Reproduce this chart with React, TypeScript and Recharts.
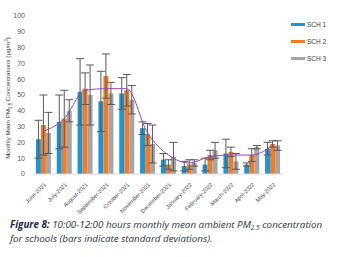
import React from 'react'
import { Bar, ComposedChart, ErrorBar, Legend, Line, XAxis, YAxis } from 'recharts'

const months = ['June-2021', 'July-2021', 'August-2021', 'September-2021', 'October-2021', 'November-2021', 'December-2021', 'January-2022', 'February-2022', 'March-2022', 'April-2022', 'May-2022']
const sch1 = [22, 33, 52, 46, 51, 29, 9, 5, 6, 13, 6, 16]
const sch1Sd = [12, 17, 21, 19, 10, 4, 4, 3, 4, 9, 1, 4]
const sch2 = [31, 35, 54, 62, 53, 25, 6, 6, 12, 14, 12, 19]
const sch2Sd = [19, 18, 10, 14, 10, 7, 3, 3, 3, 3, 4, 2]
const sch3 = [26, 40, 50, 51, 47, 19, 11, 7, 15, 8, 17, 18]
const sch3Sd = [13, 7, 19, 7, 9, 12, 9, 2, 5, 5, 1, 3]
const trend = [27, 35, 53, 54, 54, 26, 12, 7, 11, 12, 12, 18]
const yTicks = [0, 10, 20, 30, 40, 50, 60, 70, 80, 90, 100]

const series = [
    { key: 'sch1', name: 'SCH 1', color: '#1a96d8' },
    { key: 'sch2', name: 'SCH 2', color: '#f57a22' },
    { key: 'sch3', name: 'SCH 3', color: '#a5a5a5' },
]

const MonthTick = (props: any) => {
    const { x, y, payload } = props
    return (
        <text x={x + 3} y={y + 3} transform={`rotate(-45 ${x + 3} ${y + 3})`} textAnchor="end"
              fontSize={5.6} fill="#404040" fontFamily="Liberation Sans, Arial">
            {payload.value}
        </text>
    )
}

const YLabel = () => (
    <text x={10} y={98} transform="rotate(-90 10 98)" textAnchor="middle" fontSize={6.2}
          fill="#404040" fontFamily="Liberation Sans, Arial">
        Monthly Mean PM<tspan fontSize={4.5} dy={1.5}>2.5</tspan>
        <tspan dy={-1.5}> Concentrations (μg/m</tspan><tspan fontSize={4.5} dy={-2}>3</tspan><tspan dy={2}>)</tspan>
    </text>
)

const LegendBox = () => (
    <div style={{ fontFamily: 'Liberation Sans, Arial', fontSize: 6.5, color: '#404040' }}>
        {series.map(s => (
            <div key={s.key} style={{ display: 'flex', alignItems: 'center', height: 17 }}>
                <span style={{ display: 'inline-block', width: 14, height: 3, background: s.color, marginRight: 2 }}/>
                {s.name}
            </div>
        ))}
    </div>
)

const App: React.FC = () => {
    const data = months.map((m, i) => ({
        month: m,
        sch1: sch1[i], sch1Sd: sch1Sd[i],
        sch2: sch2[i], sch2Sd: sch2Sd[i],
        sch3: sch3[i], sch3Sd: sch3Sd[i],
        trend: trend[i],
    }))
    return (
        <div style={{ position: 'absolute', left: 0, top: 0, width: 349, height: 257, background: '#fff' }}>
            <ComposedChart width={349} height={214} data={data} barGap={0} barCategoryGap="14%"
                           margin={{ top: 16, right: 11, left: 0, bottom: 0 }}>
                <XAxis dataKey="month" interval={0} tick={<MonthTick/>} tickLine={false}
                       axisLine={{ stroke: '#d9d9d9' }} height={40}/>
                <YAxis domain={[0, 100]} ticks={yTicks} width={33} axisLine={false} tickLine={false}
                       tick={{ fontSize: 7, fill: '#595959', fontFamily: 'Liberation Sans, Arial' }}
                       label={<YLabel/>}/>
                {series.map(s => (
                    <Bar key={s.key} dataKey={s.key} name={s.name} fill={s.color} isAnimationActive={false}>
                        <ErrorBar dataKey={`${s.key}Sd`} width={4} strokeWidth={1} stroke="#595959" direction="y"/>
                    </Bar>
                ))}
                <Line dataKey="trend" type="monotone" stroke="#9446c0" strokeWidth={1} dot={false}
                      isAnimationActive={false} legendType="none"/>
                <Legend layout="horizontal" verticalAlign="middle" align="right" content={<LegendBox/>}
                        wrapperStyle={{ top: 16, left: 291, width: 55, height: 52 }}/>
            </ComposedChart>
            <div style={{ position: 'absolute', left: 10, top: 218, width: 322, fontFamily: 'Open Sans, sans-serif',
                fontStyle: 'italic', fontSize: 9.8, lineHeight: '14px', color: '#2b3445' }}>
                <b style={{ color: '#1e2a4a' }}>Figure 8:</b> 10:00-12:00 hours monthly mean ambient PM<span
                style={{ fontSize: 6.5, verticalAlign: -2, lineHeight: 0 }}>2.5</span> concentration for schools (bars indicate standard deviations).
            </div>
        </div>
    )
}

export default App
